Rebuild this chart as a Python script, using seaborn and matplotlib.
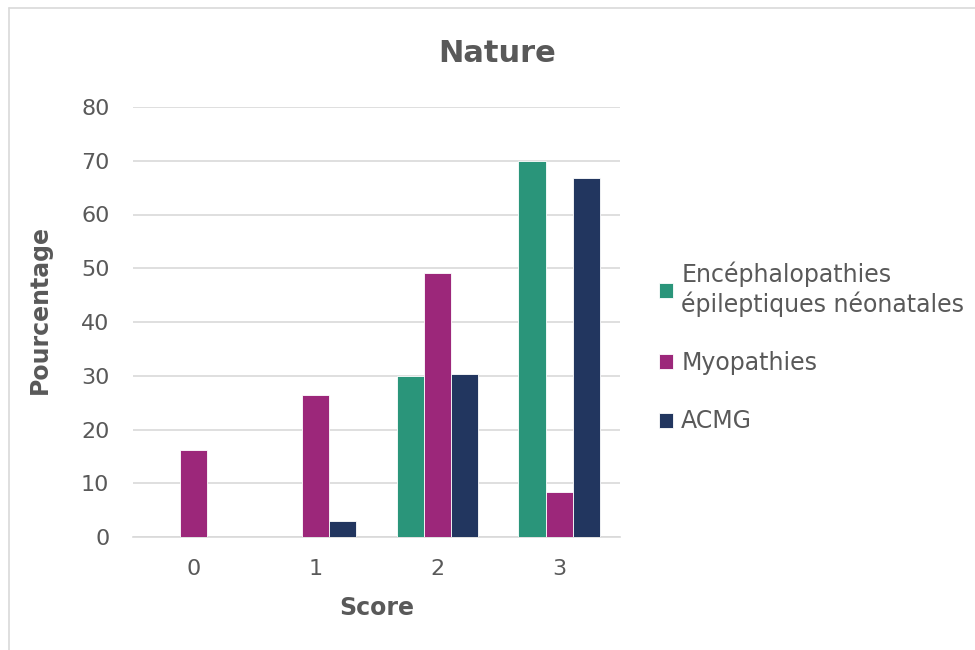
"""Grouped bar chart: Nature score by group (seaborn + matplotlib)"""
import matplotlib
matplotlib.use("Agg")
import matplotlib.pyplot as plt
from matplotlib.lines import Line2D
import pandas as pd
import seaborn as sns

scores = ["0", "1", "2", "3"]
series_names = ["Encéphalopathies\népileptiques néonatales", "Myopathies", "ACMG"]
encephalopathies = [0, 0, 30, 70]
myopathies = [16.1, 26.4, 49.2, 8.3]
acmg = [0, 2.9, 30.4, 66.7]
colors = ["#2a957a", "#9c277a", "#22365f"]
y_ticks = [0, 10, 20, 30, 40, 50, 60, 70, 80]

TEXT = "#595959"


def main():
    sns.set_theme(style="white")
    plt.rcParams["font.family"] = ["DejaVu Sans"]

    df = pd.DataFrame({
        "Score": scores * 3,
        "Pourcentage": encephalopathies + myopathies + acmg,
        "Groupe": [series_names[0]] * 4 + [series_names[1]] * 4 + [series_names[2]] * 4,
    })

    fig = plt.figure(figsize=(9.75, 6.5), dpi=100)
    ax = fig.add_axes([133 / 975, 1 - 537 / 650, (620 - 133) / 975, (537 - 107) / 650])

    sns.barplot(data=df, x="Score", y="Pourcentage", hue="Groupe",
                palette=colors, saturation=1, width=0.67, gap=0,
                edgecolor="white", linewidth=0.6, ax=ax, zorder=3)

    ax.set_ylim(0, 80)
    ax.set_yticks(y_ticks)
    ax.yaxis.grid(True, color="#d9d9d9", linewidth=1.2, zorder=0)
    ax.set_axisbelow(True)
    for side in ["top", "right", "left"]:
        ax.spines[side].set_visible(False)
    ax.spines["bottom"].set_color("#d9d9d9")
    ax.spines["bottom"].set_linewidth(1.2)
    ax.tick_params(axis="both", length=0, labelsize=16, labelcolor=TEXT)
    ax.tick_params(axis="x", pad=16)
    ax.tick_params(axis="y", pad=17)

    ax.set_xlabel("Score", fontsize=17, fontweight="bold", color=TEXT, labelpad=12)
    ax.set_ylabel("Pourcentage", fontsize=17, fontweight="bold", color=TEXT)
    ax.yaxis.set_label_coords(-0.166, 0.528)

    fig.text(497 / 975, 1 - 53 / 650, "Nature", ha="center", va="center",
             fontsize=22, fontweight="bold", color=TEXT)

    handles, labels = ax.get_legend_handles_labels()
    ax.legend(handles, labels, loc="upper left", bbox_to_anchor=(647 / 975, 1 - 250 / 650),
              bbox_transform=fig.transFigure, frameon=False, fontsize=17,
              labelcolor=TEXT, handlelength=0.6, handleheight=0.6,
              handletextpad=0.35, labelspacing=1.45, borderpad=0)

    # light chart border (only left and top edges fall inside the crop)
    fig.add_artist(Line2D([9 / 975, 9 / 975], [0, 1 - 8 / 650], transform=fig.transFigure,
                          color="#d9d9d9", linewidth=1.2))
    fig.add_artist(Line2D([9 / 975, 1], [1 - 8 / 650, 1 - 8 / 650], transform=fig.transFigure,
                          color="#d9d9d9", linewidth=1.2))

    fig.savefig("out.png", dpi=100)


if __name__ == "__main__":
    main()
